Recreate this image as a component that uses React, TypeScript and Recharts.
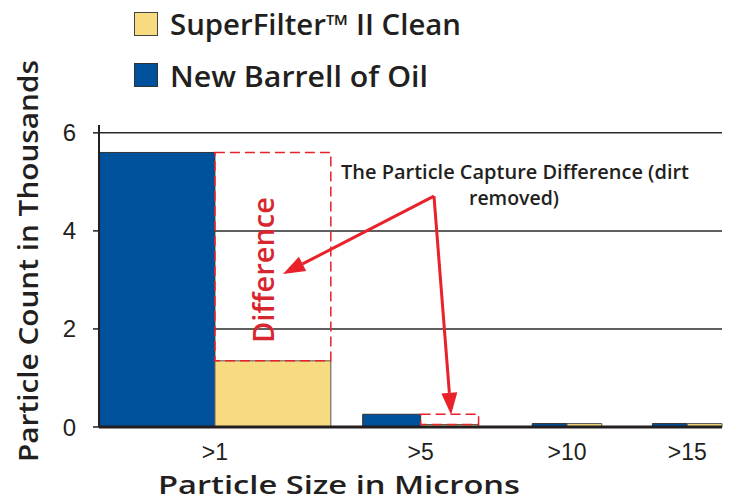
import React from 'react';
import { ComposedChart, XAxis, YAxis, CartesianGrid, ReferenceArea, ReferenceLine } from 'recharts';

// particle size bins and counts (thousands)
const categories = ['>1', '>5', '>10', '>15'];
const newBarrel = [5.6, 0.26, 0.07, 0.07];
const superFilter = [1.35, 0.05, 0.07, 0.07];
const yTicks = [0, 2, 4, 6];

// uneven layout of the size axis, in plain axis units
const binCenter = [4, 11.1, 16.15, 20.3];
const binHalf = [4, 2, 1.2, 1.2];
const X_MAX = 21.5;
const Y_MAX = 6.16;

// annotation arrows (axis units)
const arrowFrom = { x: 11.56, y: 4.71 };
const arrowTips = [
  { x: 6.35, y: 3.12 },
  { x: 12.15, y: 0.25 },
];

const BLUE = '#00519c';
const YELLOW = '#f8db81';
const RED = '#e8212a';
const INK = '#231f20';
const TITLE_FONT = '"Open Sans", "Noto Sans", sans-serif';

const rows = categories.map((c, i) => ({ name: c, pos: binCenter[i] }));

const Arrow = (props: any) => {
  const { x1, y1, x2, y2 } = props;
  const dx = x2 - x1;
  const dy = y2 - y1;
  const len = Math.hypot(dx, dy) || 1;
  const ux = dx / len;
  const uy = dy / len;
  const head = 22;
  const half = 8;
  const bx = x2 - ux * head;
  const by = y2 - uy * head;
  return (
    <g>
      <line x1={x1} y1={y1} x2={bx} y2={by} stroke={RED} strokeWidth={3} />
      <polygon
        points={`${x2},${y2} ${bx - uy * half},${by + ux * half} ${bx + uy * half},${by - ux * half}`}
        fill={RED}
      />
    </g>
  );
};

export default function App() {
  return (
    <div style={{ position: 'absolute', left: 0, top: 0, width: 730, height: 502, background: '#fff' }}>
      <ComposedChart width={730} height={502} data={rows} margin={{ top: 125, right: 8, bottom: 30, left: 0 }}>
        <CartesianGrid vertical={false} horizontalValues={yTicks} stroke="#2b2b2b" strokeWidth={1.5} />
        <XAxis
          type="number"
          dataKey="pos"
          domain={[0, X_MAX]}
          ticks={binCenter}
          tickFormatter={(v: number) => categories[binCenter.indexOf(v)]}
          allowDataOverflow
          height={45}
          tickLine={false}
          tickSize={0}
          tickMargin={17}
          axisLine={{ stroke: INK, strokeWidth: 3 }}
          tick={{ fill: INK, fontSize: 23, fontFamily: '"Liberation Sans", Arial, sans-serif' }}
        />
        <YAxis
          type="number"
          domain={[0, Y_MAX]}
          ticks={yTicks}
          allowDataOverflow
          width={99}
          tickSize={6}
          tickMargin={17}
          axisLine={{ stroke: INK, strokeWidth: 2 }}
          tickLine={{ stroke: INK, strokeWidth: 1.5 }}
          tick={{ fill: INK, fontSize: 24, fontFamily: '"Liberation Sans", Arial, sans-serif' }}
        />
        {categories.map((c, i) => (
          <ReferenceArea
            key={`nb-${c}`}
            x1={binCenter[i] - binHalf[i]}
            x2={binCenter[i]}
            y1={0}
            y2={newBarrel[i]}
            fill={BLUE}
            fillOpacity={1}
            stroke="#333"
            strokeWidth={1}
          />
        ))}
        {categories.map((c, i) => (
          <ReferenceArea
            key={`sf-${c}`}
            x1={binCenter[i]}
            x2={binCenter[i] + binHalf[i]}
            y1={0}
            y2={superFilter[i]}
            fill={YELLOW}
            fillOpacity={1}
            stroke="#555"
            strokeWidth={1}
          />
        ))}
        {categories.slice(0, 2).map((c, i) => (
          <ReferenceArea
            key={`diff-${c}`}
            x1={binCenter[i]}
            x2={binCenter[i] + binHalf[i]}
            y1={superFilter[i]}
            y2={newBarrel[i]}
            fill="none"
            fillOpacity={0}
            stroke={RED}
            strokeWidth={1.5}
            strokeDasharray="10 5"
          />
        ))}
        {arrowTips.map((tip, i) => (
          <ReferenceLine
            key={`arrow-${i}`}
            segment={[arrowFrom, tip]}
            shape={Arrow}
          />
        ))}
      </ComposedChart>

      <svg
        width={730}
        height={502}
        style={{ position: 'absolute', left: 0, top: 0, pointerEvents: 'none' }}
      >
        {/* legend */}
        <rect x={134.5} y={12.5} width={23} height={23} fill={YELLOW} stroke="#444" strokeWidth={1} />
        <text x={170} y={35} fontFamily={TITLE_FONT} fontWeight={600} fontSize={28} fill={INK}
          textLength={291} lengthAdjust="spacingAndGlyphs">
          SuperFilter™ II Clean
        </text>
        <rect x={134.5} y={63.5} width={23} height={23} fill={BLUE} stroke="#333" strokeWidth={1} />
        <text x={170} y={87} fontFamily={TITLE_FONT} fontWeight={600} fontSize={28} fill={INK}
          textLength={258} lengthAdjust="spacingAndGlyphs">
          New Barrell of Oil
        </text>

        {/* axis titles */}
        <text transform="translate(38,261) rotate(-90)" textAnchor="middle" fontFamily={TITLE_FONT}
          fontWeight={600} fontSize={27} fill={INK} textLength={402} lengthAdjust="spacingAndGlyphs">
          Particle Count in Thousands
        </text>
        <text x={339} y={494} textAnchor="middle" fontFamily={TITLE_FONT} fontWeight={600}
          fontSize={25} fill={INK} textLength={362} lengthAdjust="spacingAndGlyphs">
          Particle Size in Microns
        </text>

        {/* annotations */}
        <text x={515} y={179} textAnchor="middle" fontFamily={TITLE_FONT} fontWeight={600}
          fontSize={19} fill={INK} textLength={348} lengthAdjust="spacingAndGlyphs">
          The Particle Capture Difference (dirt
        </text>
        <text x={514} y={205} textAnchor="middle" fontFamily={TITLE_FONT} fontWeight={600}
          fontSize={19} fill={INK} textLength={90} lengthAdjust="spacingAndGlyphs">
          removed)
        </text>
        <text transform="translate(274,270) rotate(-90)" textAnchor="middle" fontFamily={TITLE_FONT}
          fontWeight={600} fontSize={29} fill="#d8262f" textLength={146} lengthAdjust="spacingAndGlyphs">
          Difference
        </text>
      </svg>
    </div>
  );
}
